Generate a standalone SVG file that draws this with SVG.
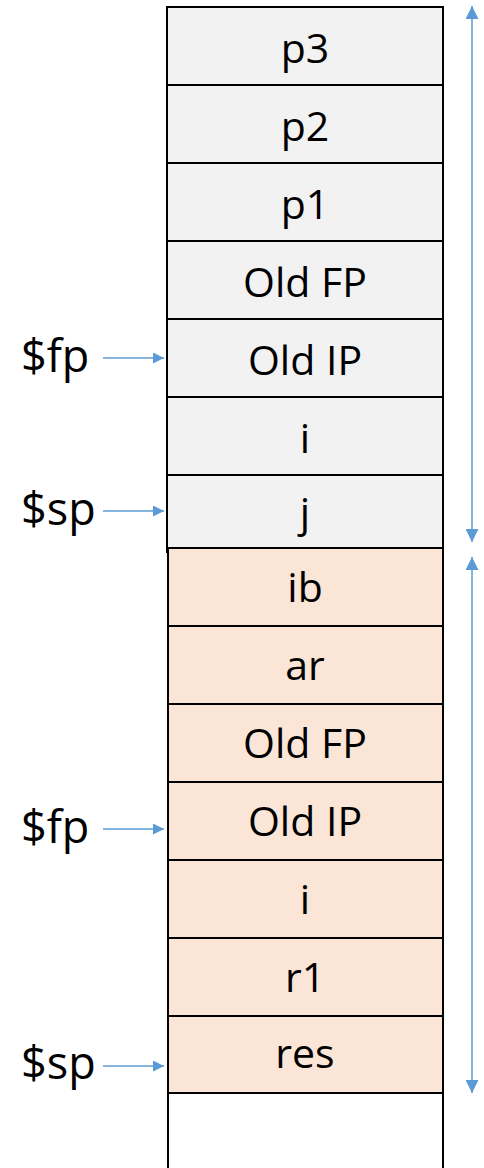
<svg xmlns="http://www.w3.org/2000/svg" width="484" height="1168" viewBox="0 0 484 1168">
<defs>
<style>
.up{fill:#f2f2f2;stroke:#000;stroke-width:2}
.lo{fill:#fbe5d6;stroke:#000;stroke-width:2}
.em{fill:#fff;stroke:#000;stroke-width:2}
.t{font-family:"Open Sans","Noto Sans",sans-serif;font-size:41px;fill:#000;text-anchor:middle}
.lb{font-family:"Open Sans","Noto Sans",sans-serif;font-size:45px;fill:#000}
.ar{stroke:#5b9bd5;stroke-width:1.5;fill:none}
</style>
<marker id="ah" viewBox="0 0 10 10" refX="10" refY="5" markerWidth="11" markerHeight="11" markerUnits="userSpaceOnUse" orient="auto"><path d="M0,0L10,5L0,10z" fill="#5b9bd5"/></marker>
<marker id="ah2" viewBox="0 0 10 10" refX="10" refY="5" markerWidth="13" markerHeight="13" markerUnits="userSpaceOnUse" orient="auto-start-reverse"><path d="M0,0L10,5L0,10z" fill="#5b9bd5"/></marker>
</defs>
<g id="empty"><rect class="em" x="168" y="1093" width="275" height="90"/></g>
<g id="n-p3"><rect class="up" x="167" y="7" width="276" height="78"/><text class="t" x="305" y="63">p3</text></g>
<g id="n-p2"><rect class="up" x="167" y="85" width="276" height="78"/><text class="t" x="305" y="141">p2</text></g>
<g id="n-p1"><rect class="up" x="167" y="163" width="276" height="78"/><text class="t" x="305" y="219">p1</text></g>
<g id="n-oldfp1"><rect class="up" x="167" y="241" width="276" height="78"/><text class="t" x="305" y="297">Old FP</text></g>
<g id="n-oldip1"><rect class="up" x="167" y="319" width="276" height="78"/><text class="t" x="305" y="375">Old IP</text></g>
<g id="n-i1"><rect class="up" x="167" y="397" width="276" height="78"/><text class="t" x="305" y="453">i</text></g>
<g id="n-j"><rect class="up" x="167" y="475" width="276" height="73"/><line x1="167" y1="548" x2="167" y2="553" stroke="#000" stroke-width="2"/><text class="t" x="305" y="527">j</text></g>
<g id="n-ib"><rect class="lo" x="168" y="548" width="275" height="78"/><text class="t" x="305" y="602">ib</text></g>
<g id="n-ar"><rect class="lo" x="168" y="626" width="275" height="78"/><text class="t" x="305" y="680">ar</text></g>
<g id="n-oldfp2"><rect class="lo" x="168" y="704" width="275" height="78"/><text class="t" x="305" y="758">Old FP</text></g>
<g id="n-oldip2"><rect class="lo" x="168" y="782" width="275" height="78"/><text class="t" x="305" y="836">Old IP</text></g>
<g id="n-i2"><rect class="lo" x="168" y="860" width="275" height="78"/><text class="t" x="305" y="914">i</text></g>
<g id="n-r1"><rect class="lo" x="168" y="938" width="275" height="78"/><text class="t" x="305" y="992">r1</text></g>
<g id="n-res"><rect class="lo" x="168" y="1016" width="275" height="77"/><text class="t" x="305" y="1068">res</text></g>
<g id="labels">
<text class="lb" x="21" y="372">$fp</text>
<text class="lb" x="21" y="525">$sp</text>
<text class="lb" x="21" y="843">$fp</text>
<text class="lb" x="21" y="1079">$sp</text>
</g>
<g id="connectors">
<line class="ar" x1="103" y1="358" x2="164" y2="358" marker-end="url(#ah)"/>
<line class="ar" x1="103" y1="511" x2="164" y2="511" marker-end="url(#ah)"/>
<line class="ar" x1="103" y1="829" x2="164" y2="829" marker-end="url(#ah)"/>
<line class="ar" x1="103" y1="1066" x2="164" y2="1066" marker-end="url(#ah)"/>
<line class="ar" x1="472" y1="6" x2="472" y2="542" marker-start="url(#ah2)" marker-end="url(#ah2)"/>
<line class="ar" x1="472" y1="557" x2="472" y2="1093" marker-start="url(#ah2)" marker-end="url(#ah2)"/>
</g>
</svg>
